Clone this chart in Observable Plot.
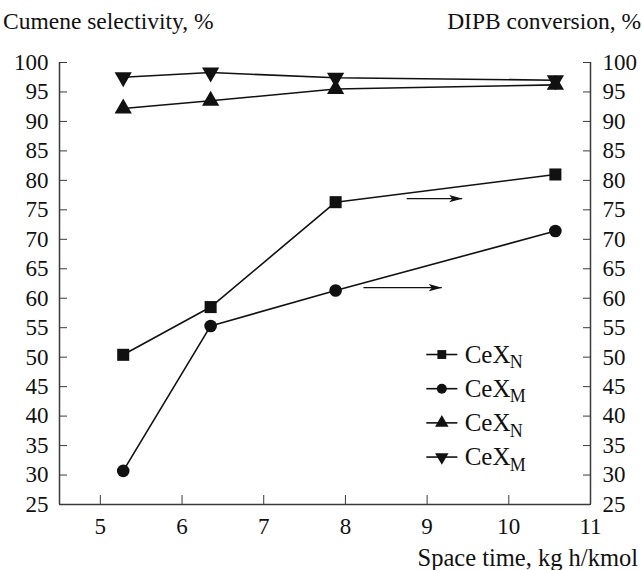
<!DOCTYPE html>
<html>
<head>
<meta charset="utf-8">
<script src="https://cdn.jsdelivr.net/npm/d3@7"></script>
<script src="https://cdn.jsdelivr.net/npm/@observablehq/plot@0.6"></script>
<style>
  body { margin: 0; background: #fff; font-family: "Liberation Serif", "Times New Roman", serif; color: #111; }
  #wrap { width: 642px; height: 570px; position: relative; }
  .titles { height: 40px; display: flex; justify-content: space-between; align-items: center; font-size: 23.5px; padding: 3px 1px 0 3px; box-sizing: border-box; }
  .xlabel { height: 25px; text-align: right; font-size: 24.5px; padding-right: 4px; line-height: 25px; }
</style>
</head>
<body>
<div id="wrap">
  <div class="titles"><span>Cumene selectivity, %</span><span>DIPB conversion, %</span></div>
  <div id="chart"></div>
  <div class="xlabel">Space time, kg h/kmol</div>
</div>
<script>
// ---- data ----
const spaceTime = [5.28, 6.35, 7.88, 10.57];
const conversionN = [50.4, 58.5, 76.3, 81.0];   // squares (right axis)
const conversionM = [30.7, 55.3, 61.3, 71.4];   // circles (right axis)
const selectivityN = [92.2, 93.5, 95.5, 96.2];  // up triangles (left axis)
const selectivityM = [97.5, 98.3, 97.4, 97.0];  // down triangles (left axis)

const xTicks = [5, 6, 7, 8, 9, 10, 11];
const yTicks = [25, 30, 35, 40, 45, 50, 55, 60, 65, 70, 75, 80, 85, 90, 95, 100];

const legendLabels = ["CeX", "CeX", "CeX", "CeX"];
const legendSubs = ["N", "M", "N", "M"];
const legendSymbols = ["square", "circle", "triangle", "triangle"];
const legendRotate = [0, 0, 0, 180];

const arrowX1 = [8.75, 8.22];
const arrowX2 = [9.43, 9.18];
const arrowY = [76.9, 61.8];

// ---- build ----
const series = [
  {values: conversionN, symbol: "square", rotate: 0, r: 6.8},
  {values: conversionM, symbol: "circle", rotate: 0, r: 6.3},
  {values: selectivityN, symbol: "triangle", rotate: 0, r: 6.4},
  {values: selectivityM, symbol: "triangle", rotate: 180, r: 6.4}
];
const pts = series.flatMap((s, k) => s.values.map((v, i) => ({x: spaceTime[i], y: v, k, symbol: s.symbol, rotate: s.rotate, r: s.r})));
const arrows = arrowY.map((y, i) => ({x1: arrowX1[i], x2: arrowX2[i], y}));

// legend layout (in data units)
const legX0 = 8.99, legX1 = 9.37, legXm = 9.18, legXt = 9.46, legTop = 50.45, legStep = 5.8;
const legend = legendLabels.map((t, i) => ({t, sub: legendSubs[i], symbol: legendSymbols[i], rotate: legendRotate[i], y: legTop - i * legStep}));

const stroke = "#111";
const axisColor = "#3a3a3a";

// filled narrow arrowhead marker
function headMarker(color) {
  const m = d3.create("svg:marker")
    .attr("viewBox", "-13 -4 13 8")
    .attr("markerWidth", 13)
    .attr("markerHeight", 8)
    .attr("markerUnits", "userSpaceOnUse")
    .attr("orient", "auto")
    .attr("fill", color)
    .attr("stroke", "none");
  m.append("path").attr("d", "M-13,-3.6L0,0L-13,3.6L-10,0Z");
  return m.node();
}

const plot = Plot.plot({
  width: 642,
  height: 505,
  marginTop: 22,
  marginBottom: 41,
  marginLeft: 59,
  marginRight: 52,
  style: {fontFamily: "'Liberation Serif', 'Times New Roman', serif", fontSize: "23px", color: "#111", background: "#fff"},
  x: {domain: [4.5, 11]},
  y: {domain: [25, 100]},
  marks: [
    Plot.ruleX([4.5, 11], {stroke: axisColor, strokeWidth: 1.5}),
    Plot.ruleY([25], {stroke: axisColor, strokeWidth: 1.5}),
    Plot.axisY(yTicks, {anchor: "left", tickSize: -8, tickPadding: 19, label: null, stroke: axisColor, fill: "#111", fontSize: 23}),
    Plot.axisY(yTicks, {anchor: "right", tickSize: -8, tickPadding: 20, label: null, stroke: axisColor, fill: "#111", fontSize: 23}),
    Plot.axisX(xTicks, {anchor: "bottom", tickSize: -9, tickPadding: 22, label: null, stroke: axisColor, fill: "#111", fontSize: 23}),
    ...series.map((s, k) => Plot.line(pts.filter(d => d.k === k), {x: "x", y: "y", stroke, strokeWidth: 1.6})),
    Plot.dot(pts, {x: "x", y: "y", symbol: "symbol", rotate: "rotate", r: "r", fill: stroke, stroke: "none"}),
    Plot.link(arrows, {x1: "x1", x2: "x2", y1: "y", y2: "y", stroke, strokeWidth: 1.4, markerEnd: headMarker}),
    // legend
    Plot.link(legend, {x1: () => legX0, x2: () => legX1, y1: "y", y2: "y", stroke, strokeWidth: 1.6}),
    Plot.dot(legend, {x: () => legXm, y: "y", symbol: "symbol", rotate: "rotate", r: 5, fill: stroke, stroke: "none"}),
    Plot.text(legend, {x: () => legXt, y: "y", text: "t", textAnchor: "start", fontSize: 25, fill: "#111"}),
    Plot.text(legend, {x: () => legXt, y: "y", text: "sub", textAnchor: "start", fontSize: 18, dx: 45, dy: 8, fill: "#111"})
  ],
  symbol: {type: "identity"},
  r: {type: "identity"}
});
document.getElementById("chart").appendChild(plot);
</script>
</body>
</html>
